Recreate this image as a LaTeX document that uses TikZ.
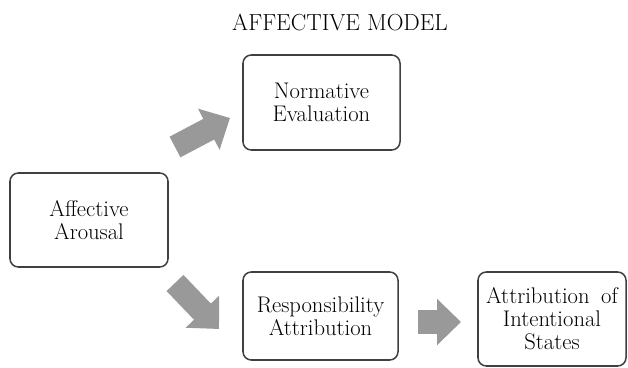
\documentclass[tikz,border=0pt]{standalone}
\usepackage{tikz}
\usetikzlibrary{positioning}
\usetikzlibrary{arrows.meta, calc}
\definecolor{boxgray}{rgb}{0.25, 0.25, 0.25}
\definecolor{arrowgray}{rgb}{0.6, 0.6, 0.6}
\tikzstyle{box} = [rectangle, rounded corners=0.25cm, draw=boxgray, line width=1.3pt, fill=white, align=center, text=black, font=\fontsize{19.3}{19.5}\selectfont]
\tikzstyle{bigarrow} = [line width=0.7cm, draw=arrowgray, -{Triangle[length=0.72cm, width=1.35cm]}]

\begin{document}
\begin{tikzpicture}[x=0.03cm, y=-0.03cm]
\useasboundingbox (0,0) rectangle (628,367);
\node (title) at (340,22) [font=\fontsize{19.8}{20}\selectfont, text=black] {AFFECTIVE MODEL};
\node (norm) at (321.5,102.5) [box, minimum width=4.71cm, minimum height=2.85cm] {Normative\\Evaluation};
\node (arousal) at (89,220) [box, minimum width=4.74cm, minimum height=2.82cm] {Affective\\Arousal};
\node (resp) at (320.5,316) [box, minimum width=4.65cm, minimum height=2.64cm] {Responsibility\\Attribution};
\node (intent) at (552,319) [box, minimum width=4.44cm, minimum height=2.82cm] {Attribution\hspace{0.35cm}of\\Intentional\\States};
%% block arrows
\coordinate (up-s) at (175,147);
\coordinate (up-e) at (230,118);
\coordinate (dn-s) at (175,283);
\coordinate (dn-e) at (219,329);
\coordinate (rt-s) at (418,322);
\coordinate (rt-e) at (461,322);
\draw[bigarrow] (up-s) -- (up-e);
\draw[bigarrow] (dn-s) -- (dn-e);
\draw[bigarrow] (rt-s) -- (rt-e);
\end{tikzpicture}
\end{document}
